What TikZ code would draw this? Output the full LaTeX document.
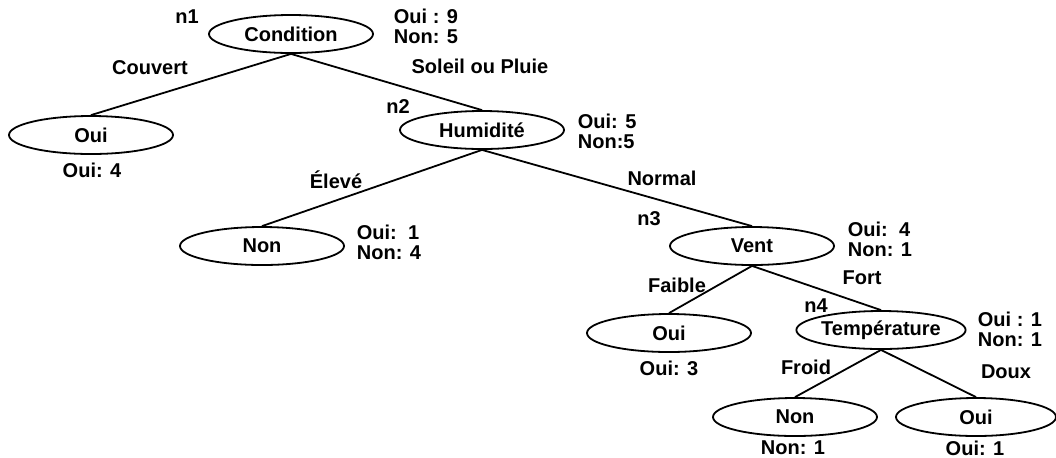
\documentclass[tikz,border=0pt]{standalone}
\usepackage{fontspec}
\setmainfont{Liberation Sans}
\usetikzlibrary{shapes.geometric}
\begin{document}
\begin{tikzpicture}[
                x=0.5pt, y=-0.5pt,
                font=\bfseries\fontsize{10}{10}\selectfont,
                cell/.style={ellipse, draw, line width=0.9pt, inner sep=0pt,
                    minimum width=82pt, minimum height=19pt},
                count/.style={align=left, anchor=west, inner sep=0pt},
                lbl/.style={inner sep=0pt},
                every path/.style={line width=0.9pt},
            ]
            \useasboundingbox (0,0) rectangle (1056,457);
            % tests
            \node[cell] (cond) at (291,34) {Condition};
            \node[cell] (hum) at (482,130) {Humidité};
            \node[cell] (vent) at (752,246) {Vent};
            \node[cell, minimum width=80pt] (temp) at (881,330) {Température};
            % leaves
            \node[cell] (couv) at (91,135) {Oui};
            \node[cell] (elev) at (262,246) {Non};
            \node[cell] (faib) at (669,333) {Oui};
            \node[cell] (froid) at (795,417) {Non};
            \node[cell, minimum width=80pt] (doux) at (976,417) {Oui};
            % branches
            \draw (cond.south) -- (couv.north);
            \draw (cond.south) -- (hum.north);
            \draw (hum.south) -- (elev.north);
            \draw (hum.south) -- (vent.north);
            \draw (vent.south) -- (faib.north);
            \draw (vent.south) -- (temp.north);
            \draw (temp.south) -- (froid.north);
            \draw (temp.south) -- (doux.north);
            % branch labels
            \node[lbl] (lcouv) at (150,68) {Couvert};
            \node[lbl] (lsol) at (480,66) {Soleil ou Pluie};
            \node[lbl] (lelev) at (336,180) {Élevé};
            \node[lbl] (lnorm) at (662,178) {Normal};
            \node[lbl] (lfaib) at (677,285) {Faible};
            \node[lbl] (lfort) at (862,278) {Fort};
            \node[lbl] (lfroid) at (806,367) {Froid};
            \node[lbl] (ldoux) at (1006,372) {Doux};
            % node names
            \node[lbl] (t1) at (187,17) {n1};
            \node[lbl] (t2) at (398,107) {n2};
            \node[lbl] (t3) at (649,219) {n3};
            \node[lbl] (t4) at (816,306) {n4};
            % counts
            \node[count] (c1) at (393,26) {Oui : 9\\Non: 5};
            \node[count] (c2) at (577,131) {Oui: 5\\Non:5};
            \node[count] (c3) at (356,242) {Oui:~~1\\Non: 4};
            \node[count] (c4) at (847,239) {Oui:~~4\\Non: 1};
            \node[count] (c5) at (977,329) {Oui : 1\\Non: 1};
            \node[lbl] (c6) at (92,170) {Oui: 4};
            \node[lbl] (c7) at (669,368) {Oui: 3};
            \node[lbl] (c8) at (793,448) {Non: 1};
            \node[lbl] (c9) at (975,448) {Oui: 1};
            \end{tikzpicture}
\end{document}
